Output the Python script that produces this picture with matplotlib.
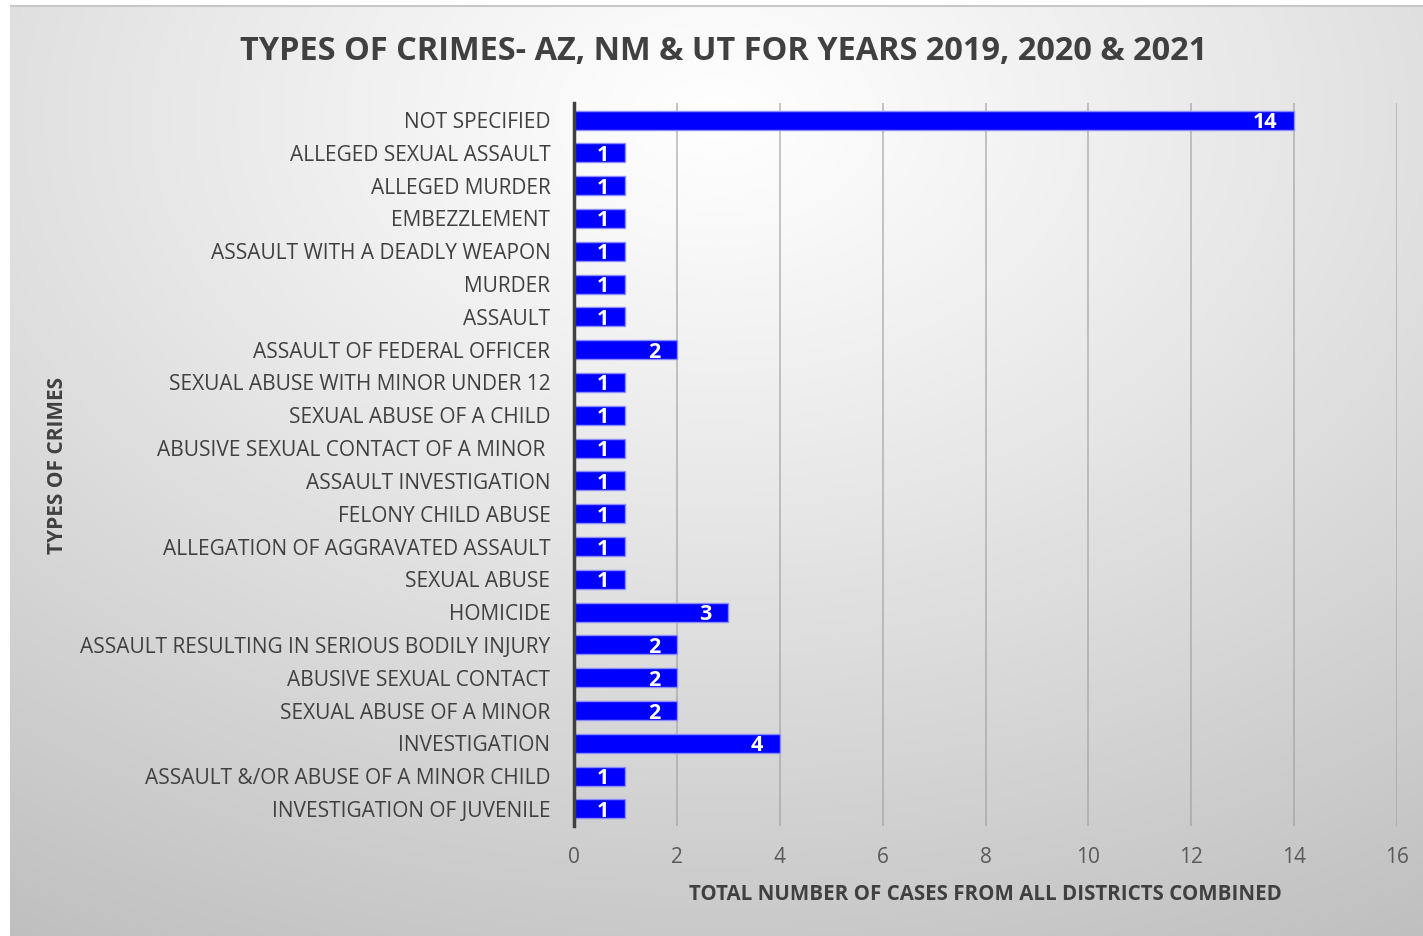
import matplotlib
matplotlib.use("Agg")
import matplotlib.pyplot as plt
import numpy as np

plt.rcParams['font.family'] = ['Open Sans', 'DejaVu Sans']

# categories from top to bottom as shown in the chart
crimes = [
    "NOT SPECIFIED",
    "ALLEGED SEXUAL ASSAULT",
    "ALLEGED MURDER",
    "EMBEZZLEMENT",
    "ASSAULT WITH A DEADLY WEAPON",
    "MURDER",
    "ASSAULT",
    "ASSAULT OF FEDERAL OFFICER",
    "SEXUAL ABUSE WITH MINOR UNDER 12",
    "SEXUAL ABUSE OF A CHILD",
    "ABUSIVE SEXUAL CONTACT OF A MINOR ",
    "ASSAULT INVESTIGATION",
    "FELONY CHILD ABUSE",
    "ALLEGATION OF AGGRAVATED ASSAULT",
    "SEXUAL ABUSE",
    "HOMICIDE",
    "ASSAULT RESULTING IN SERIOUS BODILY INJURY",
    "ABUSIVE SEXUAL CONTACT",
    "SEXUAL ABUSE OF A MINOR",
    "INVESTIGATION",
    "ASSAULT &/OR ABUSE OF A MINOR CHILD",
    "INVESTIGATION OF JUVENILE",
]
cases = [14, 1, 1, 1, 1, 1, 1, 2, 1, 1, 1, 1, 1, 1, 1, 3, 2, 2, 2, 4, 1, 1]
x_ticks = [0, 2, 4, 6, 8, 10, 12, 14, 16]

W, H = 1423, 936
fig = plt.figure(figsize=(W / 100, H / 100), dpi=100)
fig.patch.set_facecolor("white")

# radial gradient background of the chart area
bg = fig.add_axes([10 / W, 0, 1 - 10 / W, 1 - 5 / H], zorder=-10)
gx, gy = np.meshgrid(np.linspace(0, 1, 400), np.linspace(0, 1, 300))
d = np.sqrt(((gx - 0.5) * 1.0) ** 2 + ((gy - 0.12) * 0.95) ** 2)
d = d / d.max()
shade = 1.0 - 0.25 * np.clip(d, 0, 1) ** 1.1
rgb = np.dstack([shade, shade, shade])
bg.imshow(rgb, aspect="auto", extent=(0, 1, 1, 0), interpolation="bilinear")
bg.set_xlim(0, 1)
bg.set_ylim(1, 0)
bg.axis("off")
bg.plot([0, 1], [0.001, 0.001], color="#c8c8c8", lw=1.5)

ax = fig.add_axes([574 / W, 1 - 826 / H, (1397 - 574) / W, (826 - 103) / H])
ax.patch.set_alpha(0)

ypos = np.arange(len(crimes))
ax.barh(ypos, cases, height=0.58, color="#0000FF", edgecolor="#8c8cff", linewidth=1, zorder=3)
for y, v in zip(ypos, cases):
    ax.annotate(str(v), (v, y), xytext=(-12, 0), textcoords="offset points",
                ha="right", va="center_baseline", color="white", fontweight="bold",
                fontsize=15.5, zorder=4)

ax.set_xlim(0, 16)
ax.set_ylim(len(crimes) - 0.48, -0.52)
ax.set_xticks(x_ticks)
ax.set_yticks(ypos)
ax.set_yticklabels(crimes)
for x in x_ticks[1:]:
    ax.axvline(x, color="#a0a0a0", lw=1.2, alpha=0.7, zorder=1)

for s in ["top", "right", "bottom"]:
    ax.spines[s].set_visible(False)
ax.spines["left"].set_color("#404040")
ax.spines["left"].set_linewidth(2.5)
ax.spines["left"].set_zorder(5)
ax.tick_params(axis="both", length=0, colors="#595959", labelsize=15)
ax.tick_params(axis="y", pad=17, labelcolor="#404040")
ax.tick_params(axis="x", pad=15)

ax.set_xlabel("TOTAL NUMBER OF CASES FROM ALL DISTRICTS COMBINED",
              fontsize=14.8, fontweight="bold", color="#404040", labelpad=12)

fig.text(58 / W, 1 - 465 / H, "TYPES OF CRIMES", rotation=90, ha="center", va="center",
         fontsize=15, fontweight="bold", color="#404040")
fig.text(724 / W, 1 - 52 / H, "TYPES OF CRIMES- AZ, NM & UT FOR YEARS 2019, 2020 & 2021",
         ha="center", va="center", fontsize=23.4, fontweight="bold", color="#404040")

fig.savefig("out.png", dpi=100)
